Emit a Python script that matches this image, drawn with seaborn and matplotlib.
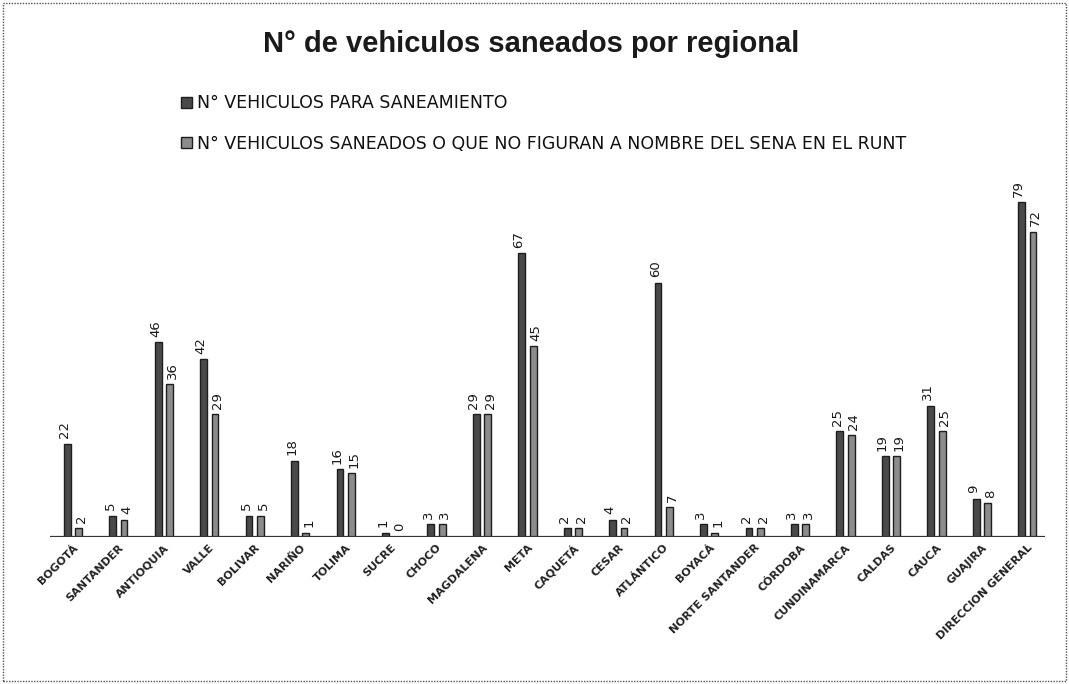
import pandas as pd
import matplotlib
matplotlib.use("Agg")
import matplotlib.pyplot as plt
import seaborn as sns
from matplotlib.patches import Rectangle

regionales = ["BOGOTÁ", "SANTANDER", "ANTIOQUIA", "VALLE", "BOLIVAR", "NARIÑO",
              "TOLIMA", "SUCRE", "CHOCO", "MAGDALENA", "META", "CAQUETÁ", "CESAR",
              "ATLÁNTICO", "BOYACÁ", "NORTE SANTANDER", "CÓRDOBA", "CUNDINAMARCA",
              "CALDAS", "CAUCA", "GUAJIRA", "DIRECCION GENERAL"]
para_saneamiento = [22, 5, 46, 42, 5, 18, 16, 1, 3, 29, 67, 2, 4, 60, 3, 2, 3, 25, 19, 31, 9, 79]
saneados = [2, 4, 36, 29, 5, 1, 15, 0, 3, 29, 45, 2, 2, 7, 1, 2, 3, 24, 19, 25, 8, 72]

serie_1 = "N° VEHICULOS PARA SANEAMIENTO"
serie_2 = "N° VEHICULOS SANEADOS O QUE NO FIGURAN A NOMBRE DEL SENA EN EL RUNT"

df = pd.DataFrame({"Regional": regionales, serie_1: para_saneamiento, serie_2: saneados})
df_long = df.melt(id_vars="Regional", var_name="Serie", value_name="Cantidad")

sns.set_style("white")
plt.rcParams['font.family'] = ['DejaVu Sans']

fig = plt.figure(figsize=(10.69, 6.84), dpi=100)
ax = fig.add_axes([0.047, 0.215, 0.931, 0.551])

sns.barplot(data=df_long, x="Regional", y="Cantidad", hue="Serie",
            hue_order=[serie_1, serie_2], order=regionales,
            palette=["#4a4a4a", "#8c8c8c"], width=0.5, gap=0.4,
            edgecolor="#1e1e1e", linewidth=1, ax=ax, legend=False)

# etiquetas de valor verticales, un poco separadas para que no se pisen
for cont, dx in zip(ax.containers, [-2.0, 2.0]):
    etiquetas = ax.bar_label(cont, rotation=90, padding=4, fontsize=9.5, color="#1a1a1a")
    for t in etiquetas:
        t.xyann = (dx, 4)

ax.axhline(0, color="#333333", lw=1.6)
ax.set_ylim(0, 89)
ax.set_xlim(-0.5, 21.4)
ax.set_yticks([])
ax.set_xlabel("")
ax.set_ylabel("")
for s in ax.spines.values():
    s.set_visible(False)
ax.tick_params(axis="x", length=0, pad=4)
plt.setp(ax.get_xticklabels(), rotation=45, ha="right", rotation_mode="anchor",
         fontsize=8, fontweight="bold", color="#222222")

fig.text(0.497, 0.935, "N° de vehiculos saneados por regional", ha="center", va="center",
         fontsize=21, fontweight="bold", family=['Liberation Sans', 'DejaVu Sans'],
         color="#1a1a1a")

handles = ax.containers
fig.legend(handles, [serie_1, serie_2], loc="upper left", bbox_to_anchor=(0.155, 0.885),
           frameon=False, handlelength=0.6, handleheight=0.6,
           handletextpad=0.3, labelspacing=1.3, labelcolor="#111111",
           prop={'family': ['Liberation Sans Narrow', 'DejaVu Sans'], 'size': 12.5})

fig.patches.append(Rectangle((0.003, 0.004), 0.994, 0.992, transform=fig.transFigure,
                             fill=False, ec="#555555", lw=1, ls=(0, (1, 1))))

fig.savefig("out.png", dpi=100, facecolor="white")
